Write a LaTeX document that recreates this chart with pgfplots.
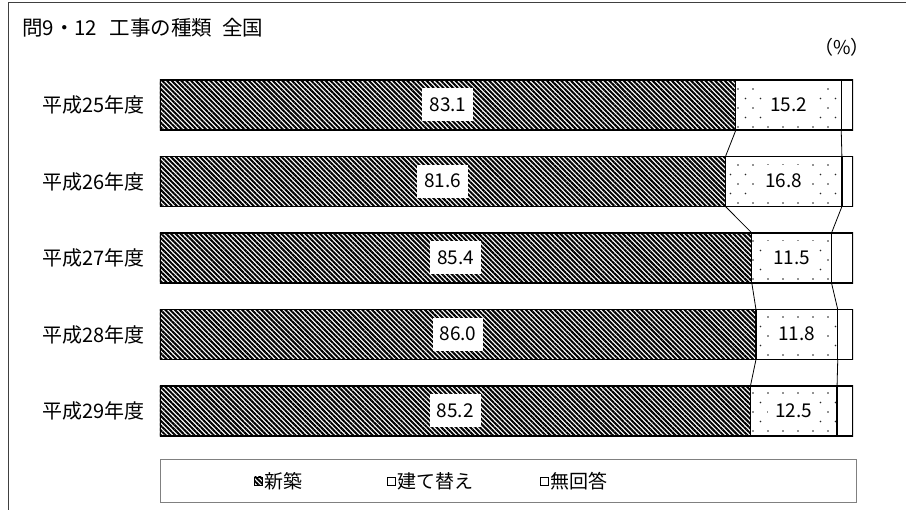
\documentclass[border=0pt]{standalone}
\usepackage{pgfplots}
\pgfplotsset{compat=1.18}
\usepackage{pgfplotstable}
\usepackage{fontspec}
\setmainfont{Noto Sans CJK JP}
\usetikzlibrary{patterns,patterns.meta}

\pgfdeclarepatternformonly{sparsedots}{\pgfqpoint{-1pt}{-1pt}}{\pgfqpoint{16pt}{20pt}}{\pgfqpoint{15pt}{19pt}}{%
  \pgfpathcircle{\pgfqpoint{3pt}{3pt}}{0.95pt}%
  \pgfpathcircle{\pgfqpoint{10.5pt}{12.5pt}}{0.95pt}%
  \pgfusepath{fill}}

\pgfplotstableread{
y new re na
0 83.1 15.2 1.7
1 81.6 16.8 1.6
2 85.4 11.5 3.1
3 86.0 11.8 2.2
4 85.2 12.5 2.3
}\bardata

\pgfplotstableread{
x y lab
41.55 0 83.1
90.70 0 15.2
40.80 1 81.6
90.00 1 16.8
42.70 2 85.4
91.15 2 11.5
43.00 3 86.0
91.90 3 11.8
42.60 4 85.2
91.45 4 12.5
}\labdata

\pgfplotsset{
  base/.style={
    at={(160pt,60.75pt)}, anchor=south west,
    scale only axis, width=693pt, height=382.5pt,
    xmin=0, xmax=100, ymin=-0.5, ymax=4.5, y dir=reverse,
    axis line style={draw=none}, major tick length=0pt,
    xtick=\empty,
  }
}

\begin{document}
\begin{tikzpicture}
\path[use as bounding box] (0pt,0pt) rectangle (906pt,510pt);
\draw[line width=1pt, black!75] (8pt,0pt) -- (8pt,507pt) -- (906pt,507pt);
\node[anchor=west, font=\fontsize{20.5}{24}\selectfont, inner sep=0pt] at (22pt,482pt) {問9・12\hspace{0.6em}工事の種類\hspace{0.5em}全国};
\node[font=\fontsize{19}{22}\selectfont, inner sep=0pt] at (842pt,463pt) {（\%）};
\draw[gray, line width=0.8pt] (160pt,8pt) rectangle (856pt,51pt);

\begin{axis}[base,
  xbar stacked, bar width=50pt,
  ytick={0,1,2,3,4},
  yticklabels={平成25年度,平成26年度,平成27年度,平成28年度,平成29年度},
  yticklabel style={font=\fontsize{20}{23}\selectfont, inner sep=0pt, xshift=-15pt},
  legend columns=3,
  legend style={draw=none, fill=none, at={(0.1356,-0.083)}, anchor=west, inner sep=0pt,
    font=\fontsize{19}{22}\selectfont,
    nodes={inner xsep=2pt, inner ysep=0pt},
    /tikz/column 2/.style={column sep=82pt},
    /tikz/column 4/.style={column sep=64pt}},
  legend image code/.code={\draw[#1, line width=0.8pt] (0pt,-4pt) rectangle (8pt,4pt);},
]
\addplot[draw=black, line width=1.2pt, pattern={Lines[angle=-45, distance=3.4pt, line width=2pt]}, pattern color=black] table[x=new, y=y] {\bardata};
\addlegendentry{新築}
\addplot[draw=black, line width=1.2pt, pattern=sparsedots, pattern color=black!85] table[x=re, y=y] {\bardata};
\addlegendentry{建て替え}
\addplot[draw=black, line width=1.2pt, fill=white] table[x=na, y=y] {\bardata};
\addlegendentry{無回答}
\end{axis}

\begin{axis}[base, ytick=\empty, unbounded coords=jump]
\addplot[black, line width=0.8pt] coordinates {
(83.1,0.327) (81.6,0.673) (nan,nan)
(98.3,0.327) (98.4,0.673) (nan,nan)
(81.6,1.327) (85.4,1.673) (nan,nan)
(98.4,1.327) (96.9,1.673) (nan,nan)
(85.4,2.327) (86.0,2.673) (nan,nan)
(96.9,2.327) (97.8,2.673) (nan,nan)
(86.0,3.327) (85.2,3.673) (nan,nan)
(97.8,3.327) (97.7,3.673)
};
\addplot[draw=none, mark=none, nodes near coords, point meta=explicit symbolic,
  nodes near coords style={anchor=center, fill=white, inner xsep=7pt, inner ysep=10pt,
    text height=13pt, text depth=0pt, font=\fontsize{19}{22}\selectfont}]
  table[x=x, y=y, meta=lab] {\labdata};
\end{axis}
\end{tikzpicture}
\end{document}
